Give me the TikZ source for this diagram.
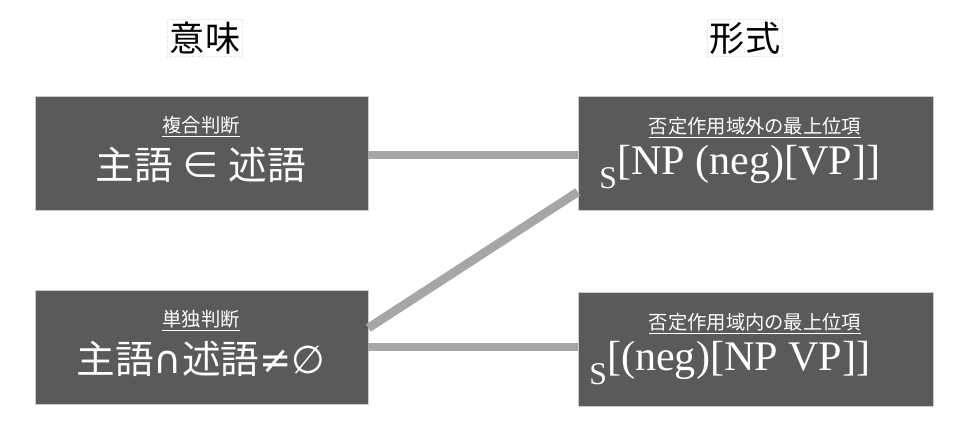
\documentclass[tikz,border=0pt]{standalone}
\usepackage{fontspec}
\setmainfont{Liberation Serif}
\newfontfamily\cjk{Noto Sans CJK JP}
\newfontfamily\dsans{DejaVu Sans}
\definecolor{boxg}{HTML}{5A5A5A}
\definecolor{lineg}{HTML}{A6A6A6}
\begin{document}
\begin{tikzpicture}[x=0.02cm,y=-0.02cm,
  box/.style={draw=gray!40,fill=boxg,minimum width=6.66cm,minimum height=2.28cm,inner sep=0pt,text=white,align=center},
  rbox/.style={box,minimum width=7.1cm},
  hdr/.style={draw=gray!30,densely dotted,inner sep=1.5pt,font=\cjk\fontsize{20}{22}\selectfont},
  conn/.style={draw=lineg,line width=5pt},
  lab/.style={font=\cjk\fontsize{11}{12}\selectfont}]
\useasboundingbox (0,0) rectangle (963,428);
\node[hdr] (h1) at (205,38) {意味};
\node[hdr] (h2) at (745,38) {形式};
\node[box] (a) at (201.5,153) {};
\node[box] (b) at (201.5,347.5) {};
\node[rbox] (c) at (755.5,153.5) {};
\node[rbox] (d) at (755.5,349) {};
\node[lab,text=white] (at) at (201,127) {\underline{複合判断}};
\node[text=white,font=\cjk\fontsize{22}{24}\selectfont] (am) at (201,165) {主語 ∈ 述語};
\node[lab,text=white] (bt) at (201,321) {\underline{単独判断}};
\node[text=white,font=\cjk\fontsize{22}{24}\selectfont] (bm) at (201,359) {主語{\dsans ∩}述語{\dsans ≠∅}};
\node[lab,text=white] (ct) at (755,128) {\underline{否定作用域外の最上位項}};
\node[text=white,font=\fontsize{24}{26}\selectfont] (cm) at (740,167) {\raisebox{-0.35em}{\fontsize{18}{20}\selectfont S}[NP (neg)[VP]]};
\node[lab,text=white] (dt) at (755,324) {\underline{否定作用域内の最上位項}};
\node[text=white,font=\fontsize{24}{26}\selectfont] (dm) at (730,363) {\raisebox{-0.35em}{\fontsize{18}{20}\selectfont S}[(neg)[NP VP]]};
\draw[conn] (a.east |- 0,155) -- (c.west |- 0,155);
\draw[conn] (b.east |- 0,328) -- (c.west |- 0,192);
\draw[conn] (b.east |- 0,347) -- (d.west |- 0,347);
\end{tikzpicture}
\end{document}
